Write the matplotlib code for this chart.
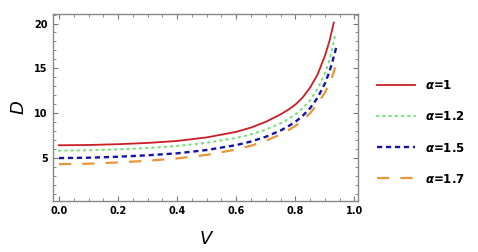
import matplotlib
matplotlib.use("Agg")
import matplotlib.pyplot as plt
from matplotlib.ticker import MultipleLocator

# Data
v_grid = [0.0, 0.1, 0.2, 0.3, 0.4, 0.5, 0.6, 0.65, 0.7, 0.75, 0.775, 0.8,
          0.825, 0.85, 0.875, 0.9, 0.915]
d_a1 = [6.40, 6.43, 6.52, 6.66, 6.88, 7.28, 7.90, 8.38, 9.02, 9.85, 10.35, 10.95,
        11.75, 12.85, 14.3, 16.4, 18.0]
d_a12 = [5.80, 5.84, 5.94, 6.09, 6.32, 6.68, 7.22, 7.62, 8.15, 8.85, 9.30, 9.85,
         10.55, 11.45, 12.7, 14.45, 15.9]
d_a15 = [4.97, 5.01, 5.12, 5.28, 5.50, 5.87, 6.42, 6.82, 7.35, 8.05, 8.50, 9.02,
         9.70, 10.55, 11.7, 13.3, 14.6]
d_a17 = [4.29, 4.34, 4.48, 4.67, 4.93, 5.33, 5.93, 6.35, 6.90, 7.62, 8.06, 8.56,
         9.20, 10.0, 11.0, 12.3, 13.3]
# end sections of each curve (V, D)
v_tail = [[0.930], [0.925, 0.936], [0.925, 0.938], [0.925, 0.935]]
d_tail = [[20.1], [17.2, 19.0], [15.7, 17.3], [14.1, 15.1]]
labels = ["1", "1.2", "1.5", "1.7"]

series = [d_a1, d_a12, d_a15, d_a17]
colors = ["#C81E24", "#7EE07E", "#1414A8", "#E8963A"]
styles = [dict(ls="-", lw=1.3),
          dict(ls=(0, (0.6, 2.2)), lw=1.6, dash_capstyle="round"),
          dict(ls=(0, (2.2, 1.6)), lw=1.7),
          dict(ls=(0, (5.5, 5.0)), lw=1.6)]

fig = plt.figure(figsize=(4.78, 2.52), dpi=100)
ax = fig.add_axes([0.111, 0.204, 0.638, 0.740])

for d, vt, dt, c, st, lab in zip(series, v_tail, d_tail, colors, styles, labels):
    ax.plot(v_grid + vt, d + dt, color=c,
            label=r"$\boldsymbol{\alpha}$=" + lab, **st)

ax.set_xlim(-0.02, 1.012)
ax.set_ylim(0.22, 21.05)
ax.xaxis.set_minor_locator(MultipleLocator(0.05))
ax.yaxis.set_minor_locator(MultipleLocator(1))
ax.set_xticks([0, 0.2, 0.4, 0.6, 0.8, 1.0])
ax.set_xticklabels(["0.0", "0.2", "0.4", "0.6", "0.8", "1.0"])
ax.set_yticks([5, 10, 15, 20])
ax.tick_params(which="both", direction="in", top=True, right=True, color="#777777")
ax.tick_params(which="major", length=3.5, width=0.8, labelsize=7, pad=4)
ax.tick_params(which="minor", length=2, width=0.6)
for lbl in ax.get_xticklabels() + ax.get_yticklabels():
    lbl.set_fontweight("bold")
for s in ax.spines.values():
    s.set_color("#888888")
    s.set_linewidth(1.0)

ax.set_xlabel("V", fontsize=13, style="italic", labelpad=10)
ax.set_ylabel("D", fontsize=13, style="italic", labelpad=5)

leg = ax.legend(loc="center left", bbox_to_anchor=(1.027, 0.365), frameon=False,
                handlelength=3.2, labelspacing=1.53, handletextpad=0.9,
                prop=dict(size=8.5, weight="bold"))

fig.savefig("out.png", dpi=100)
